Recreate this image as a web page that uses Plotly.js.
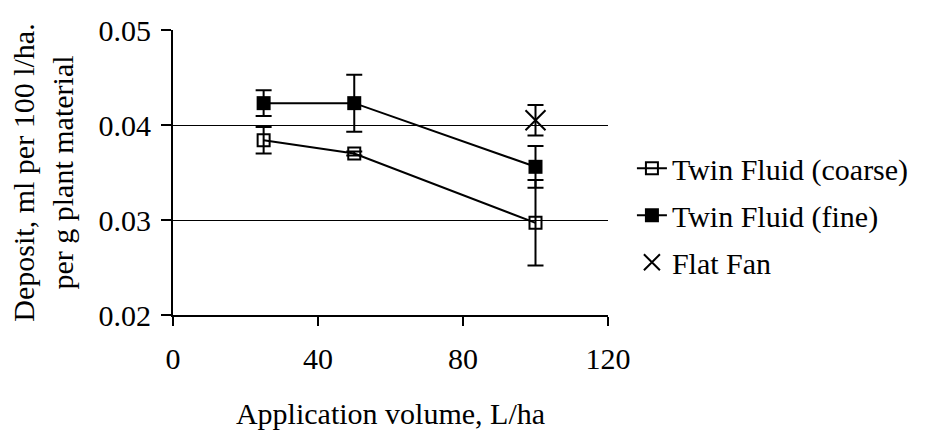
<!DOCTYPE html>
<html>
<head>
<meta charset="utf-8">
<script src="https://cdn.plot.ly/plotly-3.0.1.min.js"></script>
<style>html,body{margin:0;padding:0;background:#fff;}#chart{width:927px;height:430px;}</style>
</head>
<body>
<div id="chart"></div>
<script>
// Data
const volumes = [25, 50, 100];
const coarseDeposit = [0.0384, 0.0370, 0.0297];
const coarseErr = [0.0014, 0.0002, 0.0045];
const fineDeposit = [0.0423, 0.0423, 0.0356];
const fineErr = [0.00135, 0.0030, 0.0022];
const flatFanVolume = [100];
const flatFanDeposit = [0.0405];
const flatFanErr = [0.0016];
const xTicks = [0, 40, 80, 120];
const yTicks = [0.02, 0.03, 0.04, 0.05];

const FONT = '"Liberation Serif", "Times New Roman", serif';
const FS = 30;

const errStyle = {type: 'data', visible: true, color: '#000', thickness: 2, width: 8};

const traces = [
  {
    x: volumes, y: coarseDeposit, name: 'Twin Fluid (coarse)', legendgroup: 'a',
    mode: 'lines+markers', type: 'scatter',
    line: {color: '#000', width: 2},
    marker: {symbol: 'square-open', size: 12, color: '#000', line: {color: '#000', width: 2}},
    error_y: Object.assign({array: coarseErr}, errStyle)
  },
  {
    x: volumes, y: fineDeposit, name: 'Twin Fluid (fine)', legendgroup: 'b',
    mode: 'lines+markers', type: 'scatter',
    line: {color: '#000', width: 2},
    marker: {symbol: 'square', size: 14, color: '#000'},
    error_y: Object.assign({array: fineErr}, errStyle)
  },
  {
    x: flatFanVolume, y: flatFanDeposit, name: 'Flat Fan', legendgroup: 'c',
    mode: 'markers', type: 'scatter',
    marker: {symbol: 'x-thin-open', size: 20, color: '#000', line: {color: '#000', width: 2}},
    error_y: Object.assign({array: flatFanErr}, errStyle)
  }
];

const layout = {
  width: 927, height: 430,
  margin: {l: 173, r: 319, t: 30, b: 115},
  paper_bgcolor: '#fff', plot_bgcolor: '#fff',
  font: {family: FONT, size: FS, color: '#000'},
  showlegend: true,
  legend: {
    x: 1.055, xanchor: 'left', y: 0.35, yanchor: 'middle',
    font: {family: FONT, size: FS, color: '#000'},
    tracegroupgap: 5, traceorder: 'grouped', bgcolor: 'rgba(0,0,0,0)'
  },
  xaxis: {
    range: [0, 120], tickvals: xTicks, ticktext: xTicks.map(String),
    showgrid: false, zeroline: false,
    showline: true, linecolor: '#000', linewidth: 2,
    ticks: 'outside', ticklen: 9, tickwidth: 2, tickcolor: '#000',
    ticklabelstandoff: 7,
    tickfont: {family: FONT, size: FS, color: '#000'},
    title: {text: 'Application volume, L/ha', font: {family: FONT, size: FS, color: '#000'}, standoff: 40}
  },
  yaxis: {
    range: [0.02, 0.05], tickvals: yTicks, ticktext: yTicks.map(v => v.toFixed(2)),
    showgrid: true, gridcolor: '#000', gridwidth: 1, zeroline: false,
    showline: true, linecolor: '#000', linewidth: 2,
    ticks: 'outside', ticklen: 10, tickwidth: 2, tickcolor: '#000',
    ticklabelstandoff: 4,
    tickfont: {family: FONT, size: FS, color: '#000'},
    title: {text: 'Deposit, ml per 100 l/ha.<br>per g plant material', font: {family: FONT, size: FS, color: '#000'}, standoff: 16}
  }
};

Plotly.newPlot('chart', traces, layout, {displayModeBar: false, staticPlot: true});
</script>
</body>
</html>
